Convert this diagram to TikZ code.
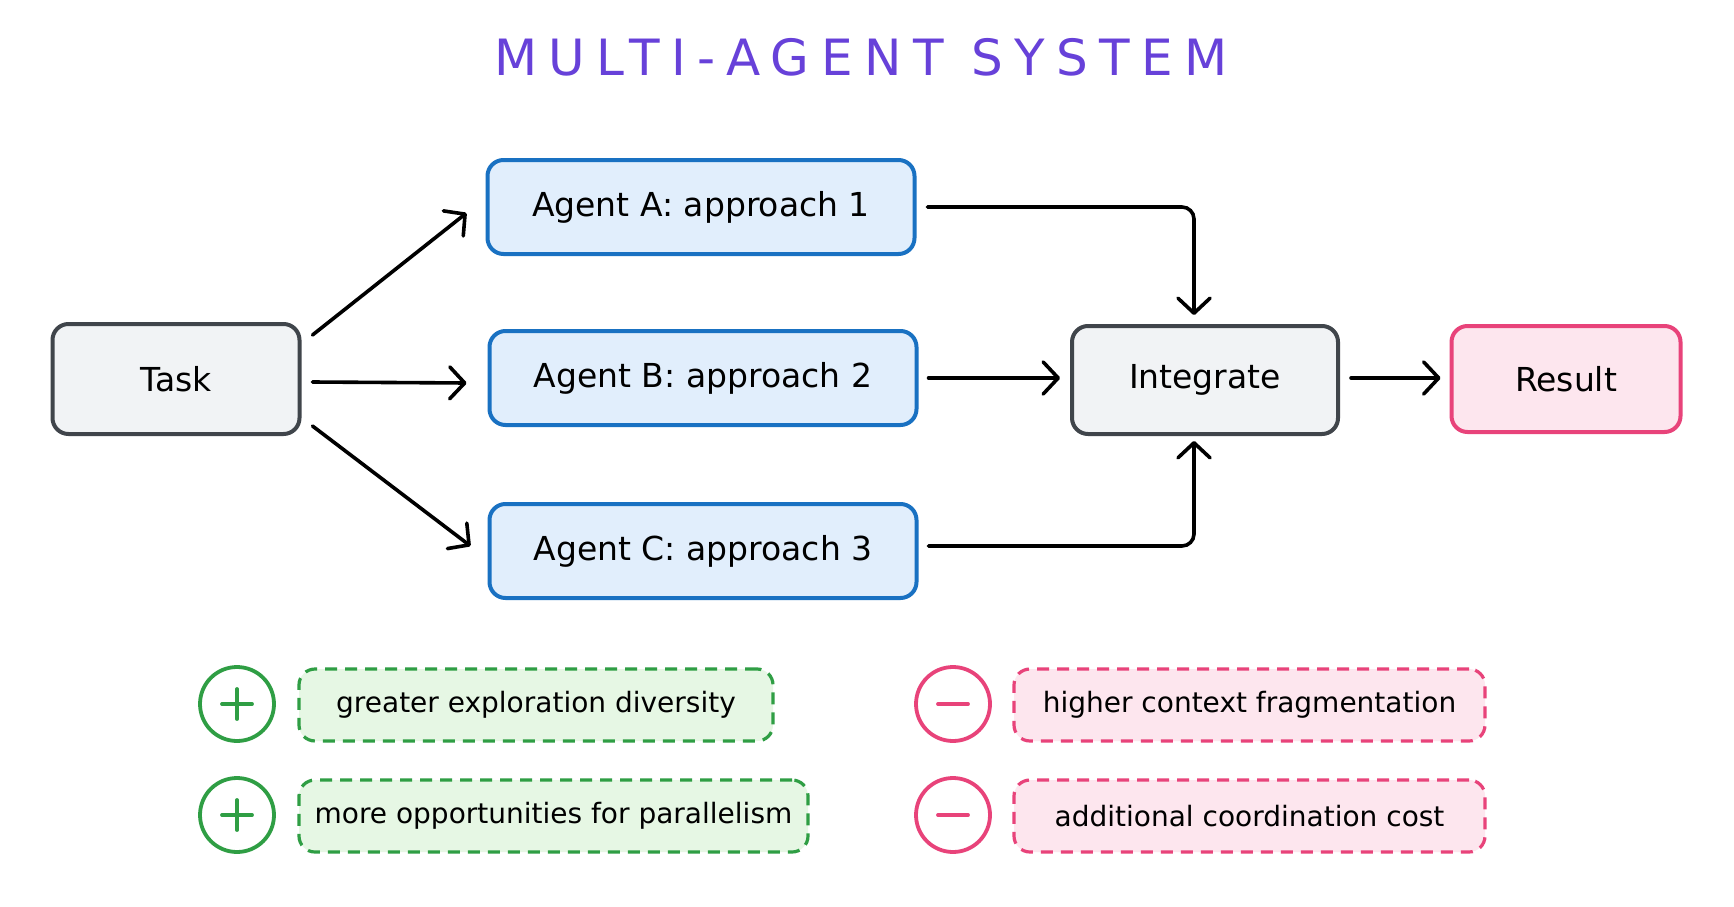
\documentclass[tikz,border=0pt]{standalone}
\usepackage{fontspec}
\setmainfont{DejaVu Sans}
\newfontfamily\titlefont[LetterSpace=23]{DejaVu Sans}
\usetikzlibrary{arrows.meta,calc}
\definecolor{titlec}{HTML}{6741D9}
\definecolor{grayline}{HTML}{40454B}
\definecolor{grayfill}{HTML}{F1F3F5}
\definecolor{blueline}{HTML}{1971C2}
\definecolor{bluefill}{HTML}{E1EEFC}
\definecolor{pinkline}{HTML}{E8437A}
\definecolor{pinkfill}{HTML}{FDE6EE}
\definecolor{greenline}{HTML}{2F9E44}
\definecolor{greenfill}{HTML}{E6F7E4}
\begin{document}
\begin{tikzpicture}[x=1pt,y=-1pt,
  box/.style={draw, line width=4pt, rounded corners=16pt, inner sep=0pt,
    font=\fontsize{33}{40}\selectfont, text=black},
  graybox/.style={box, draw=grayline, fill=grayfill},
  bluebox/.style={box, draw=blueline, fill=bluefill, minimum width=427pt, minimum height=94pt},
  pinkbox/.style={box, draw=pinkline, fill=pinkfill},
  notebox/.style={draw, line width=3.2pt, rounded corners=16pt, inner sep=0pt,
    dash pattern=on 12pt off 8pt, minimum height=72pt,
    font=\fontsize{28}{34}\selectfont, text=black},
  pro/.style={notebox, draw=greenline, fill=greenfill},
  con/.style={notebox, draw=pinkline, fill=pinkfill},
  sign/.style={circle, draw, line width=3.8pt, minimum size=74pt, inner sep=0pt},
  signbar/.style={line width=3.8pt, line cap=round},
  arr/.style={line width=3.6pt, draw=black, line cap=round,
    -{Straight Barb[length=15pt,width=32pt,line width=3.6pt,line cap=round,line join=round]}}
]
\useasboundingbox[fill=white] (0,0) rectangle (1734,907);

\node[text=titlec, font=\titlefont\fontsize{50}{60}\selectfont] (title) at (861,57) {MULTI-AGENT SYSTEM};

\node[graybox, minimum width=247pt, minimum height=110pt] (task) at (176,379) {Task};
\node[bluebox] (agA) at (701,207) {Agent A: approach 1};
\node[bluebox] (agB) at (703,378) {Agent B: approach 2};
\node[bluebox] (agC) at (703,551) {Agent C: approach 3};
\node[graybox, minimum width=266pt, minimum height=108pt] (integ) at (1205,380) {Integrate};
\node[pinkbox, minimum width=229pt, minimum height=106pt] (result) at (1566,379) {Result};

\draw[arr] ($(task.east)+(11,-44)$) -- ($(agA.west)+(-19,6)$);
\draw[arr] ($(task.east)+(11,3)$) -- ($(agB.west)+(-21,5)$);
\draw[arr] ($(task.east)+(11,47)$) -- ($(agC.west)+(-17,-5)$);

\draw[arr, rounded corners=12pt] ($(agA.east)+(11,0)$) -| ($(integ.north)+(-11,-9)$);
\draw[arr] ($(agB.east)+(10,0)$) -- ($(integ.west)+(-10,-2)$);
\draw[arr, rounded corners=12pt] ($(agC.east)+(10,-5)$) -| ($(integ.south)+(-11,5)$);
\draw[arr] ($(integ.east)+(11,-2)$) -- ($(result.west)+(-9,-1)$);

\node[sign, draw=greenline] (plusA) at (237,704) {};
\node[sign, draw=greenline] (plusB) at (237,815) {};
\node[sign, draw=pinkline] (minusA) at (953,704) {};
\node[sign, draw=pinkline] (minusB) at (953,815) {};
\foreach \s in {plusA,plusB}{
  \draw[signbar, greenline] ($(\s.center)+(-15,0)$) -- ($(\s.center)+(15,0)$);
  \draw[signbar, greenline] ($(\s.center)+(0,-15)$) -- ($(\s.center)+(0,15)$);
}
\foreach \s in {minusA,minusB}{
  \draw[signbar, pinkline] ($(\s.center)+(-15,0)$) -- ($(\s.center)+(15,0)$);
}

\node[pro, minimum width=474pt] (pro1) at (536,705) {greater exploration diversity};
\node[pro, minimum width=509pt] (pro2) at (553.5,816) {more opportunities for parallelism};
\node[con, minimum width=471pt] (con1) at (1249.5,705) {higher context fragmentation};
\node[con, minimum width=471pt] (con2) at (1249.5,816) {additional coordination cost};
\end{tikzpicture}
\end{document}
